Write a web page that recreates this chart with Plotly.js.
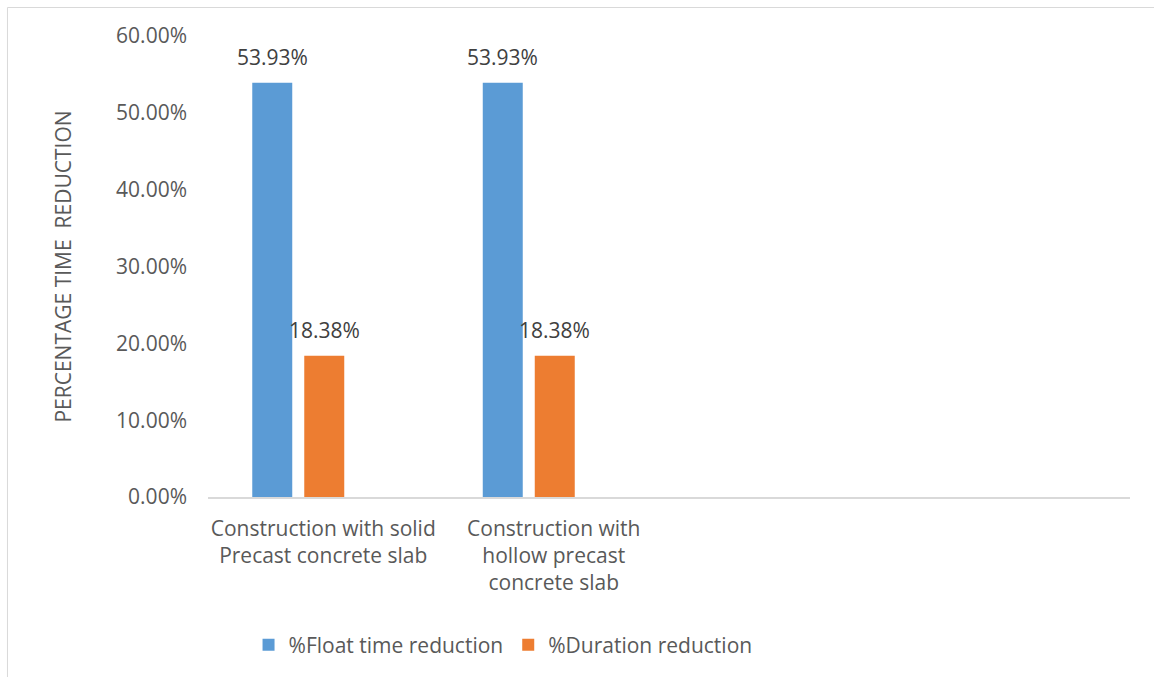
<!DOCTYPE html>
<html><head><meta charset="utf-8">
<script src="https://cdn.plot.ly/plotly-3.0.1.min.js"></script>
<style>body{margin:0;background:#fff}#chart{width:1154px;height:677px}</style>
</head><body><div id="chart"></div>
<script>
const categories = ["Construction with solid<br>Precast concrete slab", "Construction with<br>hollow precast<br>concrete slab"];
const floatReduction = [0.5393, 0.5393];
const durationReduction = [0.1838, 0.1838];
const yTicks = [0, 0.1, 0.2, 0.3, 0.4, 0.5, 0.6];
const seriesNames = ["%Float time reduction", "%Duration reduction"];

const font = {family: "Open Sans, sans-serif", size: 21, color: "#595959"};
const labelFont = {family: "Open Sans, sans-serif", size: 21, color: "#404040"};
const barWidth = 0.1735;
const series = [
  {name: seriesNames[0], y: floatReduction, color: "#5B9BD5", offset: -0.308},
  {name: seriesNames[1], y: durationReduction, color: "#ED7D31", offset: -0.0824}
];
const traces = series.map(s => ({
  type: "bar", x: categories, y: s.y, name: s.name,
  marker: {color: s.color}, width: barWidth, offset: s.offset,
  hoverinfo: "skip"
}));
const annotations = [];
series.forEach(s => {
  s.y.forEach((v, i) => {
    annotations.push({
      xref: "x", yref: "y", x: i + s.offset + barWidth / 2, y: v,
      text: (v * 100).toFixed(2) + "%", showarrow: false,
      yanchor: "middle", yshift: 26, font: labelFont
    });
  });
});
const layout = {
  width: 1154, height: 677,
  margin: {l: 208, r: 24, t: 36, b: 180},
  paper_bgcolor: "#fff", plot_bgcolor: "#fff",
  font: font,
  barmode: "overlay",
  showlegend: true,
  legend: {orientation: "h", x: 0.32, xanchor: "center", y: -0.321, yanchor: "middle",
           font: font, itemwidth: 30, traceorder: "normal"},
  xaxis: {type: "category", range: [-0.5, 3.5], showgrid: false, zeroline: false,
          showline: true, linecolor: "#d9d9d9", linewidth: 1.5, ticks: "",
          tickfont: font, ticklabelstandoff: 12, fixedrange: true},
  yaxis: {range: [0, 0.6], tickvals: yTicks, tickformat: ".2%", showgrid: false,
          zeroline: false, showline: false, ticks: "", tickfont: font, ticklabelstandoff: 20,
          title: {text: "PERCENTAGE TIME  REDUCTION", font: font, standoff: 38}},
  annotations: annotations,
  shapes: [{type: "rect", xref: "paper", yref: "paper", x0: -0.2175, x1: 1.2, y0: -0.6, y1: 1.0618,
            line: {color: "#d9d9d9", width: 1}, fillcolor: "rgba(0,0,0,0)", layer: "below"}]
};
Plotly.newPlot("chart", traces, layout, {displayModeBar: false, staticPlot: true});
</script></body></html>
